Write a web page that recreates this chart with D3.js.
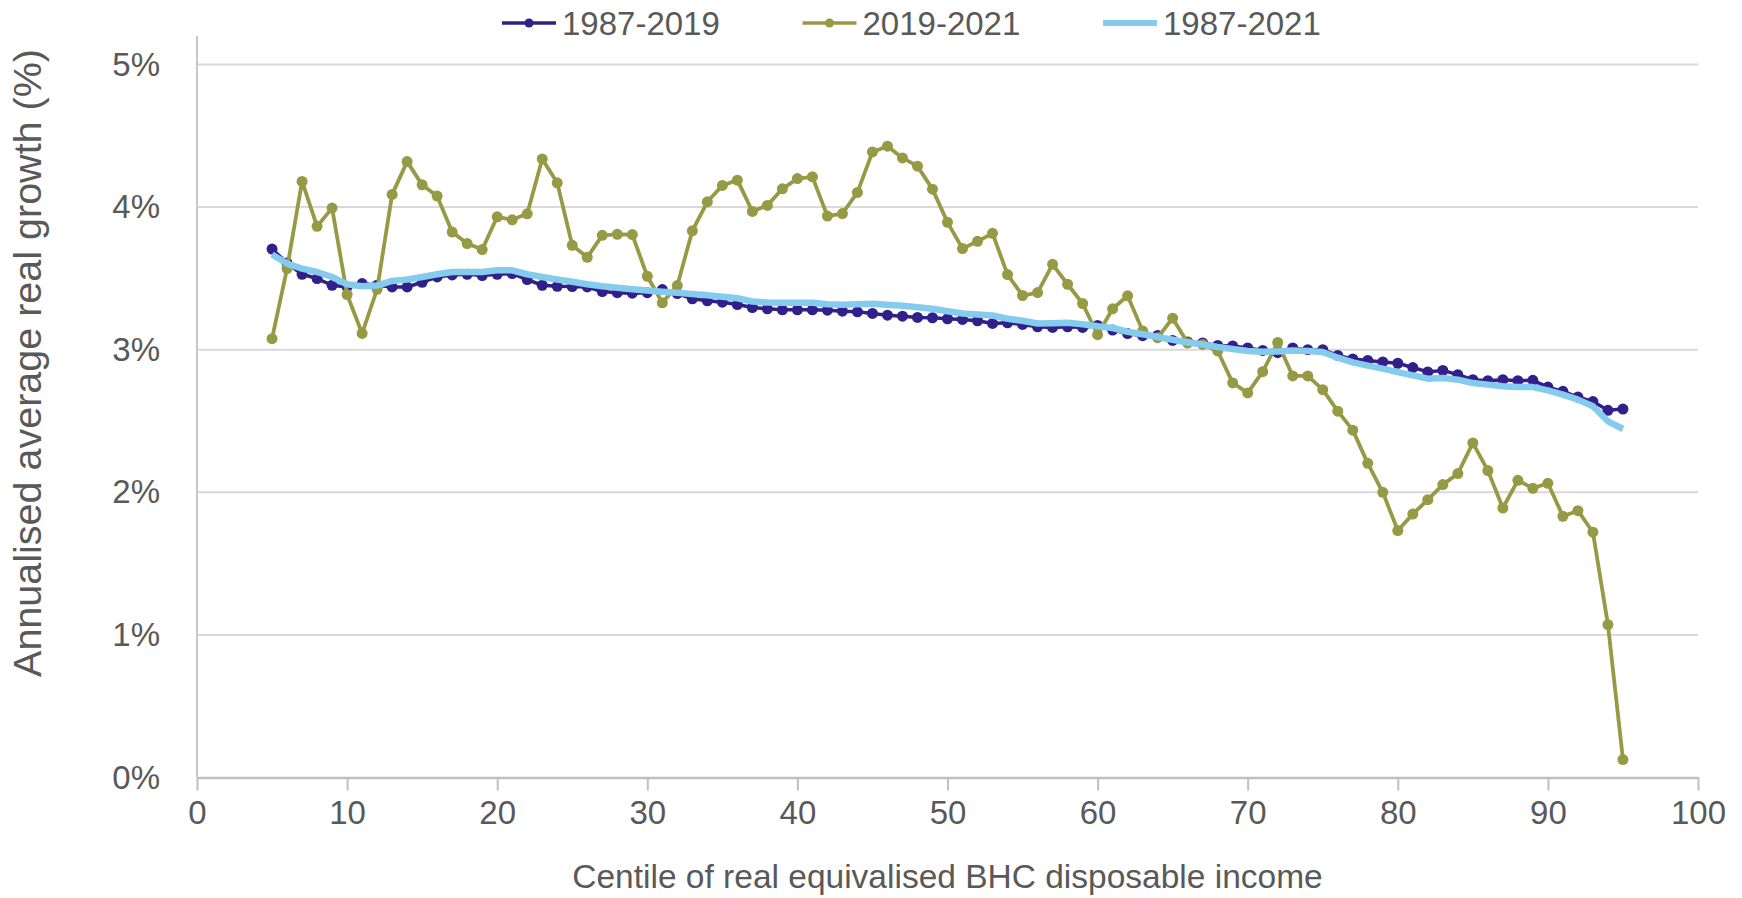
<!doctype html>
<html lang="en">
<head>
  <meta charset="utf-8">
  <script src="https://d3js.org/d3.v7.min.js"></script>
  <title>Annualised average real growth by centile</title>
  <style>
    body { margin: 0; background: #fff; }
    text { font-family: "Liberation Sans", Arial, sans-serif; fill: #595959; }
  </style>
</head>
<body>
  <svg id="chart" width="1742" height="898"></svg>

  <script>
    // centiles 5..95
    var centiles = d3.range(5, 96);

    var growth1987to2019 = [
      3.706, 3.608, 3.529, 3.499, 3.452, 3.440, 3.464, 3.452, 3.440, 3.440,
      3.473, 3.510, 3.524, 3.529, 3.520, 3.529, 3.534, 3.492, 3.452, 3.445,
      3.443, 3.440, 3.408, 3.400, 3.396, 3.400, 3.422, 3.394, 3.357, 3.343,
      3.333, 3.317, 3.296, 3.287, 3.280, 3.280, 3.280, 3.277, 3.270, 3.266,
      3.254, 3.242, 3.235, 3.226, 3.224, 3.217, 3.212, 3.203, 3.184, 3.189,
      3.177, 3.161, 3.156, 3.161, 3.156, 3.170, 3.138, 3.113, 3.098, 3.100,
      3.065, 3.054, 3.047, 3.030, 3.026, 3.012, 2.995, 2.979, 3.012, 3.000,
      3.000, 2.960, 2.935, 2.925, 2.914, 2.905, 2.875, 2.844, 2.855, 2.825,
      2.790, 2.783, 2.790, 2.783, 2.785, 2.738, 2.708, 2.668, 2.636, 2.575,
      2.584
    ];

    var growth2019to2021 = [
      3.077, 3.569, 4.180, 3.865, 3.993, 3.387, 3.114, 3.424, 4.089, 4.319,
      4.156, 4.077, 3.825, 3.744, 3.702, 3.932, 3.911, 3.953, 4.338, 4.170,
      3.732, 3.648, 3.802, 3.809, 3.807, 3.515, 3.329, 3.450, 3.834, 4.037,
      4.152, 4.189, 3.970, 4.012, 4.128, 4.200, 4.212, 3.937, 3.955, 4.103,
      4.387, 4.427, 4.345, 4.287, 4.126, 3.893, 3.709, 3.760, 3.816, 3.527,
      3.380, 3.401, 3.599, 3.459, 3.324, 3.105, 3.287, 3.378, 3.132, 3.084,
      3.221, 3.047, 3.037, 2.991, 2.767, 2.697, 2.846, 3.051, 2.816, 2.816,
      2.720, 2.569, 2.436, 2.203, 2.000, 1.732, 1.847, 1.948, 2.054, 2.131,
      2.346, 2.152, 1.890, 2.084, 2.028, 2.063, 1.832, 1.871, 1.720, 1.072,
      0.126
    ];

    var growth1987to2021 = [
      3.667, 3.604, 3.569, 3.545, 3.510, 3.459, 3.445, 3.450, 3.482, 3.492,
      3.510, 3.529, 3.545, 3.545, 3.545, 3.557, 3.557, 3.529, 3.510, 3.492,
      3.476, 3.459, 3.445, 3.434, 3.424, 3.415, 3.406, 3.399, 3.390, 3.382,
      3.371, 3.361, 3.338, 3.331, 3.329, 3.329, 3.329, 3.319, 3.315, 3.319,
      3.322, 3.315, 3.308, 3.298, 3.287, 3.270, 3.254, 3.247, 3.240, 3.217,
      3.203, 3.184, 3.186, 3.189, 3.179, 3.165, 3.152, 3.126, 3.108, 3.089,
      3.070, 3.051, 3.037, 3.019, 3.005, 2.991, 2.986, 2.988, 2.995, 2.991,
      2.984, 2.944, 2.911, 2.888, 2.867, 2.843, 2.820, 2.797, 2.801, 2.790,
      2.766, 2.755, 2.743, 2.738, 2.738, 2.715, 2.685, 2.650, 2.603, 2.498,
      2.444
    ];

    var seriesNames = ["1987-2019", "2019-2021", "1987-2021"];
    var xTicks = [0, 10, 20, 30, 40, 50, 60, 70, 80, 90, 100];
    var yTicks = [0, 1, 2, 3, 4, 5];

    var series = [
      { name: seriesNames[0], values: growth1987to2019, color: "#31208a", width: 3.5, marker: 5.5 },
      { name: seriesNames[1], values: growth2019to2021, color: "#969a45", width: 3.8, marker: 5.5 },
      { name: seriesNames[2], values: growth1987to2021, color: "#85cbee", width: 6.5, marker: 0 }
    ];

    var svg = d3.select("#chart");

    var x = d3.scaleLinear().domain([0, 100]).range([197, 1698]);
    var y = d3.scaleLinear().domain([0, 5]).range([777.5, 64.5]);

    // gridlines
    svg.append("g")
      .selectAll("line")
      .data(yTicks.filter(d => d > 0))
      .enter()
      .append("line")
        .attr("x1", x(0))
        .attr("x2", x(100))
        .attr("y1", d => y(d))
        .attr("y2", d => y(d))
        .style("stroke", "#d9d9d9")
        .style("stroke-width", 2);

    // y axis line
    svg.append("line")
      .attr("x1", x(0)).attr("x2", x(0))
      .attr("y1", 36).attr("y2", y(0))
      .style("stroke", "#c8c8c8")
      .style("stroke-width", 2);

    // x axis
    var xAxis = svg.append("g")
      .attr("transform", "translate(0," + y(0) + ")")
      .call(d3.axisBottom(x).tickValues(xTicks).tickSize(13).tickPadding(10).tickSizeOuter(0));
    xAxis.select(".domain").style("stroke", "#bfbfbf").style("stroke-width", 2.5);
    xAxis.selectAll(".tick line").style("stroke", "#bfbfbf").style("stroke-width", 2);
    xAxis.selectAll(".tick text")
      .style("font-size", "33px")
      .style("fill", "#595959")
      .style("font-family", "'Liberation Sans', Arial, sans-serif");

    // y axis labels
    var yAxis = svg.append("g")
      .attr("transform", "translate(" + x(0) + ",0)")
      .call(d3.axisLeft(y).tickValues(yTicks).tickFormat(d => d + "%").tickSize(0).tickPadding(37));
    yAxis.select(".domain").remove();
    yAxis.selectAll(".tick text")
      .style("font-size", "33px")
      .style("fill", "#595959")
      .style("font-family", "'Liberation Sans', Arial, sans-serif");

    // axis titles
    svg.append("text")
      .attr("x", (x(0) + x(100)) / 2)
      .attr("y", 888)
      .style("text-anchor", "middle")
      .style("font-size", "33.5px")
      .text("Centile of real equivalised BHC disposable income");

    svg.append("text")
      .attr("transform", "translate(41,363) rotate(-90)")
      .style("text-anchor", "middle")
      .style("font-size", "39.5px")
      .text("Annualised average real growth (%)");

    // lines
    var line = d3.line()
      .x((d, i) => x(centiles[i]))
      .y(d => y(d));

    series.forEach(function (s) {
      var g = svg.append("g");
      g.append("path")
        .datum(s.values)
        .attr("d", line)
        .style("fill", "none")
        .style("stroke", s.color)
        .style("stroke-width", s.width)
        .style("stroke-linejoin", "round");
      if (s.marker > 0) {
        g.selectAll("circle")
          .data(s.values)
          .enter()
          .append("circle")
            .attr("cx", (d, i) => x(centiles[i]))
            .attr("cy", d => y(d))
            .attr("r", s.marker)
            .style("fill", s.color);
      }
    });

    // legend
    var legend = svg.append("g");
    series.forEach(function (s, i) {
      var lx = 502 + i * 300.5;
      legend.append("line")
        .attr("x1", lx).attr("x2", lx + 54)
        .attr("y1", 23).attr("y2", 23)
        .style("stroke", s.color)
        .style("stroke-width", s.marker > 0 ? 3.5 : 6);
      if (s.marker > 0) {
        legend.append("circle")
          .attr("cx", lx + 27).attr("cy", 23).attr("r", 4.5)
          .style("fill", s.color);
      }
      legend.append("text")
        .attr("x", lx + 60)
        .attr("y", 34.5)
        .style("font-size", "33px")
        .text(s.name);
    });
  </script>
</body>
</html>
